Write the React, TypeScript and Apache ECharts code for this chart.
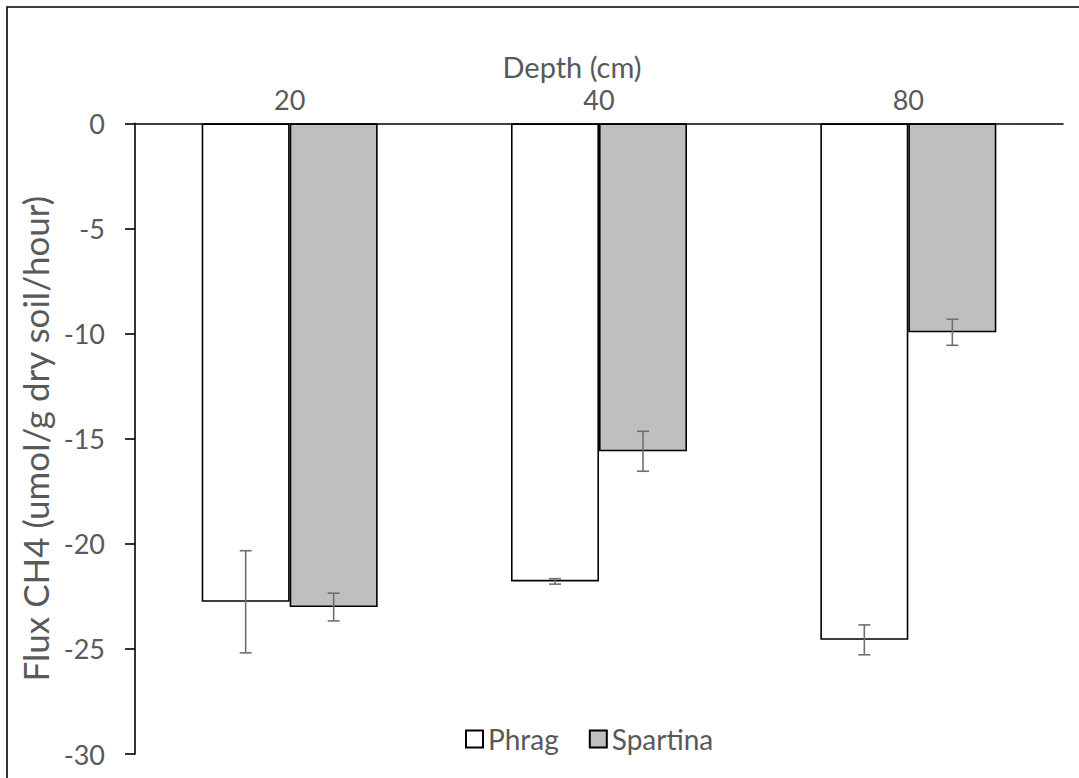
import React, { useEffect, useRef } from "react";
import * as echarts from "echarts";

const categories = ["20", "40", "80"];
const seriesNames = ["Phrag", "Spartina"];
const phragValues = [-22.76, -21.79, -24.57];
const phragErrors = [2.43, 0.13, 0.71];
const spartinaValues = [-23.01, -15.6, -9.94];
const spartinaErrors = [0.66, 0.95, 0.62];
const yMin = -30;
const yMax = 0;
const yInterval = 5;

const FONT = "Lato, 'Open Sans', sans-serif";
const BAR_W = 88;

function errorSeries(values: number[], errors: number[], offset: number) {
  return {
    type: "custom",
    z: 5,
    silent: true,
    data: values.map((v, i) => [i, v - errors[i], v + errors[i]]),
    renderItem: (params: any, api: any) => {
      const i = api.value(0);
      const lo = api.coord([i, api.value(1)]);
      const hi = api.coord([i, api.value(2)]);
      const x = lo[0] + offset;
      const cap = 6;
      const style = { stroke: "#6f6f6f", lineWidth: 1.6 };
      return {
        type: "group",
        children: [
          { type: "line", shape: { x1: x, y1: lo[1], x2: x, y2: hi[1] }, style },
          { type: "line", shape: { x1: x - cap, y1: lo[1], x2: x + cap, y2: lo[1] }, style },
          { type: "line", shape: { x1: x - cap, y1: hi[1], x2: x + cap, y2: hi[1] }, style },
        ],
      };
    },
  };
}

export default function App() {
  const ref = useRef<HTMLDivElement>(null);
  useEffect(() => {
    document.documentElement.style.overflow = "hidden";
    document.body.style.overflow = "hidden";
    const chart = echarts.init(ref.current!, null, { renderer: "svg" });
    chart.setOption({
      animation: false,
      backgroundColor: "#ffffff",
      textStyle: { fontFamily: FONT },
      graphic: [
        {
          type: "rect",
          shape: { x: 7, y: 7, width: 1100, height: 820 },
          style: { fill: "none", stroke: "#000", lineWidth: 1.6 },
          z: 100,
          silent: true,
        },
      ],
      grid: { left: 135, right: 16, top: 123.3, bottom: 24, containLabel: false },
      legend: {
        data: seriesNames,
        top: 720,
        left: 460,
        itemWidth: 17,
        itemHeight: 17,
        itemGap: 30,
        icon: "rect",
        textStyle: { color: "#595959", fontSize: 28, fontFamily: FONT },
      },
      xAxis: {
        type: "category",
        data: categories,
        position: "top",
        name: "Depth (cm)",
        nameLocation: "middle",
        nameGap: 33,
        nameTextStyle: {
          color: "#595959",
          fontSize: 29,
          fontFamily: FONT,
          padding: [0, 54, 0, 0],
        },
        axisLine: { show: true, onZero: true, lineStyle: { color: "#000", width: 1.6 } },
        axisTick: { show: false },
        axisLabel: { color: "#595959", fontSize: 27, margin: 10, fontFamily: FONT },
        splitLine: { show: false },
      },
      yAxis: {
        type: "value",
        min: yMin,
        max: yMax,
        interval: yInterval,
        name: "Flux CH4 (umol/g dry soil/hour)",
        nameLocation: "middle",
        nameGap: 78,
        nameTextStyle: { color: "#595959", fontSize: 35, fontFamily: FONT },
        axisLine: { show: true, lineStyle: { color: "#000", width: 1.6 } },
        axisTick: { show: true, length: 10, lineStyle: { color: "#000", width: 1.6 } },
        axisLabel: { color: "#595959", fontSize: 27, margin: 30, fontFamily: FONT },
        splitLine: { show: false },
      },
      series: [
        {
          name: seriesNames[0],
          type: "bar",
          data: phragValues,
          barWidth: BAR_W,
          barGap: "0%",
          itemStyle: { color: "#ffffff", borderColor: "#000", borderWidth: 1.6 },
        },
        {
          name: seriesNames[1],
          type: "bar",
          data: spartinaValues,
          barWidth: BAR_W,
          barGap: "0%",
          itemStyle: { color: "#bfbfbf", borderColor: "#000", borderWidth: 1.6 },
        },
        errorSeries(phragValues, phragErrors, -BAR_W / 2),
        errorSeries(spartinaValues, spartinaErrors, BAR_W / 2),
      ],
    });
    return () => chart.dispose();
  }, []);
  return (
    <div
      ref={ref}
      style={{ position: "fixed", left: 0, top: 0, width: 1079, height: 778 }}
    />
  );
}
